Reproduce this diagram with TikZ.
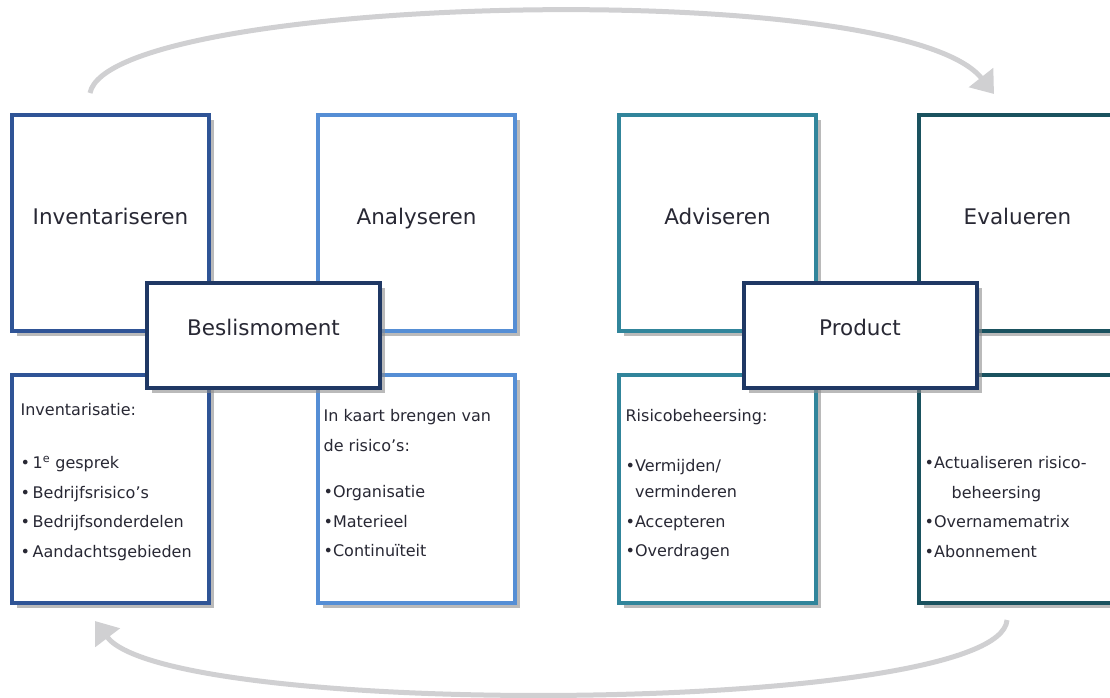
\documentclass[tikz,border=0pt]{standalone}
\usepackage{fontspec}
\setmainfont{DejaVu Sans}
\usepackage{tikz}
\usetikzlibrary{arrows.meta,
                calc,
                positioning,
                shadows}
\definecolor{invblue}{RGB}{47,84,150}
\definecolor{anablue}{RGB}{85,142,213}
\definecolor{advteal}{RGB}{49,133,155}
\definecolor{evateal}{RGB}{26,82,95}
\definecolor{midnavy}{RGB}{31,56,100}
\definecolor{arcgrey}{RGB}{208,208,210}
\definecolor{txtgrey}{RGB}{40,40,52}
\newcommand{\bigtxt}{\fontsize{21.5}{26}\selectfont}
\newcommand{\listtxt}{\fontsize{16}{29.5}\selectfont}
\tikzset{
  phase/.style={draw=#1, line width=4pt, fill=white, inner sep=0pt,
                minimum width=197pt, minimum height=216pt,
                drop shadow={shadow xshift=5pt, shadow yshift=-5pt, fill=black!45, opacity=.6}},
  detail/.style={phase=#1, minimum height=228pt},
  hub/.style={phase=midnavy, minimum width=233pt, minimum height=105pt},
  titletext/.style={font=\bigtxt, text=txtgrey, text height=16pt, text depth=4.5pt, yshift=4.75pt},
  title/.style={label={[titletext]center:#1}},
  listtext/.style={align=left, inner sep=0pt, font=\listtxt, text=txtgrey},
  roundtrip/.style={draw=arcgrey, line width=5pt, -{Triangle[width=30pt,length=21pt]}}
}
\begin{document}
\begin{tikzpicture}[x=1pt, y=-1pt]
    \useasboundingbox (0,0) rectangle (1110,697);

    % four phases
    \node[phase=invblue, title=Inventariseren] (inv) at (110.5,223) {};
    \node[phase=anablue, title=Analyseren] (ana) [right=105pt of inv] {};
    \node[phase=advteal, title=Adviseren] (adv) [right=100pt of ana] {};
    \node[phase=evateal, title=Evalueren] (eva) [right=99pt of adv] {};

    \node[detail=invblue] (invd) [below=40pt of inv] {};
    \node[detail=anablue] (anad) [below=40pt of ana] {};
    \node[detail=advteal] (advd) [below=40pt of adv] {};
    \node[detail=evateal] (evad) [below=40pt of eva] {};

    \node[listtext] (invl) [below right=21.4pt and 10.4pt of invd.north west]
        {\strut Inventarisatie:\\[24pt]
         •\,1\textsuperscript{e} gesprek\\
         •\,Bedrijfsrisico’s\\
         •\,Bedrijfsonderdelen\\
         •\,Aandachtsgebieden};
    \node[listtext] (anal) [below right=28pt and 7.4pt of anad.north west]
        {\strut In kaart brengen van\\
         de risico’s:\\[17pt]
         •Organisatie\\
         •Materieel\\
         •Continuïteit};
    \node[listtext] (advl) [below right=28pt and 8.4pt of advd.north west]
        {\strut Risicobeheersing:\\[20.5pt]
         •Vermijden/\\[-3.5pt]
         \phantom{•}verminderen\\
         •Accepteren\\
         •Overdragen};
    \node[listtext] (eval) [below right=74.8pt and 7.5pt of evad.north west]
        {\strut •Actualiseren risico-\\
         \hspace*{27pt}beheersing\\
         •Overnamematrix\\
         •Abonnement};

    % decision points
    \node[hub, label={[titletext, yshift=1.5pt]center:Beslismoment}] (beslis)
        at ([yshift=-2.5pt]$(inv.south east)!.5!(ana.south west)$) {};
    \node[hub, label={[titletext, yshift=1.5pt]center:Product}] (product)
        at ([xshift=-7.5pt, yshift=-2.5pt]$(adv.south east)!.5!(eva.south west)$) {};

    % cycle arrows
    \coordinate (cycA) at ([xshift=-20.5pt, yshift=20pt]inv.north);
    \coordinate (cycB) at ([xshift=-23.5pt, yshift=19pt]eva.north);
    \coordinate (cycC) at ([xshift=-10.5pt, yshift=-15pt]evad.south);
    \coordinate (cycD) at ([xshift=-15.5pt, yshift=-16pt]invd.south);
    \draw[roundtrip] (cycA) .. controls (110,-5) and (900,-25) .. (cycB);
    \draw[roundtrip] (cycC) .. controls (1000,715) and (170,720) .. (cycD);
\end{tikzpicture}
\end{document}
